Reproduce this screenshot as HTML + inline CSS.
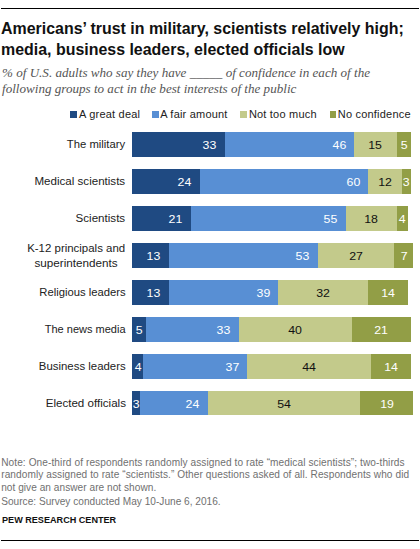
<!DOCTYPE html>
<html><head><meta charset="utf-8"><style>
html,body{margin:0;padding:0;background:#fff;}
body{width:420px;height:549px;position:relative;overflow:hidden;font-family:"Liberation Sans",sans-serif;}
.a{position:absolute;white-space:nowrap;}
.t{font-weight:bold;font-size:15.95px;line-height:15.95px;color:#111;left:1px;}
.s{font-family:"Liberation Serif",serif;font-style:italic;font-size:13.1px;line-height:13.1px;color:#555;left:2px;}
.lg{font-size:11px;line-height:11px;color:#222;letter-spacing:0.2px;}
.sq{position:absolute;width:6.5px;height:6.5px;}
.lab{font-size:11.25px;line-height:11.25px;color:#222;}
.lab span{display:inline-block;transform-origin:100% 50%;}
.seg{position:absolute;}
.v{position:absolute;font-size:11px;line-height:11px;white-space:nowrap;}
.v span{display:inline-block;transform:scaleX(1.12);}
.n{font-size:10.1px;line-height:10.1px;color:#707070;left:1.2px;}
</style></head><body>

<div class="a" style="left:1px;top:8px;width:418px;height:1px;background:#000"></div>
<div class="a t" style="top:21.1px">Americans’ trust in military, scientists relatively high;</div>
<div class="a t" style="top:42.3px">media, business leaders, elected officials low</div>
<div class="a s" style="top:66.2px">% of U.S. adults who say they have _____ of confidence in each of the</div>
<div class="a s" style="top:82.2px">following groups to act in the best interests of the public</div>
<div class="sq" style="left:70.3px;top:111.2px;background:#1f4a82"></div>
<div class="a lg" style="left:79.10px;top:109.3px">A great deal</div>
<div class="sq" style="left:152.2px;top:111.2px;background:#588fd4"></div>
<div class="a lg" style="left:160.20px;top:109.3px">A fair amount</div>
<div class="sq" style="left:240.4px;top:111.2px;background:#c3ca8b"></div>
<div class="a lg" style="left:248.90px;top:109.3px">Not too much</div>
<div class="sq" style="left:329.7px;top:111.2px;background:#929e46"></div>
<div class="a lg" style="left:337.80px;top:109.3px">No confidence</div>
<div class="a lab" style="right:294.4px;top:138.95px"><span style="transform:scaleX(1.003)">The military</span></div>
<div class="seg" style="left:132.00px;top:132px;width:92.89px;height:24.5px;background:#1f4a82"></div>
<div class="v" style="right:203.71px;top:140.45px;color:#fff"><span style="transform-origin:100% 50%">33</span></div>
<div class="seg" style="left:224.89px;top:132px;width:129.49px;height:24.5px;background:#588fd4"></div>
<div class="v" style="right:74.22px;top:140.45px;color:#fff"><span style="transform-origin:100% 50%">46</span></div>
<div class="seg" style="left:354.38px;top:132px;width:42.23px;height:24.5px;background:#c3ca8b"></div>
<div class="v" style="left:354.38px;width:42.23px;text-align:center;top:140.45px;color:#111"><span>15</span></div>
<div class="seg" style="left:396.61px;top:132px;width:14.07px;height:24.5px;background:#929e46"></div>
<div class="v" style="left:396.61px;width:14.07px;text-align:center;top:140.45px;color:#fff"><span>5</span></div>
<div class="a lab" style="right:294.4px;top:175.95px"><span style="transform:scaleX(1.029)">Medical scientists</span></div>
<div class="seg" style="left:132.00px;top:169px;width:67.56px;height:24.5px;background:#1f4a82"></div>
<div class="v" style="right:229.04px;top:177.45px;color:#fff"><span style="transform-origin:100% 50%">24</span></div>
<div class="seg" style="left:199.56px;top:169px;width:168.90px;height:24.5px;background:#588fd4"></div>
<div class="v" style="right:60.14px;top:177.45px;color:#fff"><span style="transform-origin:100% 50%">60</span></div>
<div class="seg" style="left:368.46px;top:169px;width:33.78px;height:24.5px;background:#c3ca8b"></div>
<div class="v" style="left:368.46px;width:33.78px;text-align:center;top:177.45px;color:#111"><span>12</span></div>
<div class="seg" style="left:402.24px;top:169px;width:8.45px;height:24.5px;background:#929e46"></div>
<div class="v" style="left:402.24px;width:8.45px;text-align:center;top:177.45px;color:#fff"><span>3</span></div>
<div class="a lab" style="right:294.4px;top:212.95px"><span style="transform:scaleX(1.03)">Scientists</span></div>
<div class="seg" style="left:132.00px;top:206px;width:59.12px;height:24.5px;background:#1f4a82"></div>
<div class="v" style="right:237.48px;top:214.45px;color:#fff"><span style="transform-origin:100% 50%">21</span></div>
<div class="seg" style="left:191.12px;top:206px;width:154.82px;height:24.5px;background:#588fd4"></div>
<div class="v" style="right:82.66px;top:214.45px;color:#fff"><span style="transform-origin:100% 50%">55</span></div>
<div class="seg" style="left:345.94px;top:206px;width:50.67px;height:24.5px;background:#c3ca8b"></div>
<div class="v" style="left:345.94px;width:50.67px;text-align:center;top:214.45px;color:#111"><span>18</span></div>
<div class="seg" style="left:396.61px;top:206px;width:11.26px;height:24.5px;background:#929e46"></div>
<div class="v" style="left:396.61px;width:11.26px;text-align:center;top:214.45px;color:#fff"><span>4</span></div>
<div class="a lab" style="left:6.5px;width:140px;text-align:center;top:243.30px"><span style="transform:scaleX(1.018);transform-origin:50% 50%">K-12 principals and</span></div>
<div class="a lab" style="left:6.1px;width:140px;text-align:center;top:257.55px"><span style="transform:scaleX(1.04);transform-origin:50% 50%">superintendents</span></div>
<div class="seg" style="left:132.00px;top:243px;width:36.59px;height:24.5px;background:#1f4a82"></div>
<div class="v" style="right:260.00px;top:251.45px;color:#fff"><span style="transform-origin:100% 50%">13</span></div>
<div class="seg" style="left:168.59px;top:243px;width:149.19px;height:24.5px;background:#588fd4"></div>
<div class="v" style="right:110.81px;top:251.45px;color:#fff"><span style="transform-origin:100% 50%">53</span></div>
<div class="seg" style="left:317.79px;top:243px;width:76.00px;height:24.5px;background:#c3ca8b"></div>
<div class="v" style="left:317.79px;width:76.00px;text-align:center;top:251.45px;color:#111"><span>27</span></div>
<div class="seg" style="left:393.79px;top:243px;width:19.70px;height:24.5px;background:#929e46"></div>
<div class="v" style="left:393.79px;width:19.70px;text-align:center;top:251.45px;color:#fff"><span>7</span></div>
<div class="a lab" style="right:294.4px;top:286.95px"><span style="transform:scaleX(1.0)">Religious leaders</span></div>
<div class="seg" style="left:132.00px;top:280px;width:36.59px;height:24.5px;background:#1f4a82"></div>
<div class="v" style="right:260.00px;top:288.45px;color:#fff"><span style="transform-origin:100% 50%">13</span></div>
<div class="seg" style="left:168.59px;top:280px;width:109.78px;height:24.5px;background:#588fd4"></div>
<div class="v" style="right:150.22px;top:288.45px;color:#fff"><span style="transform-origin:100% 50%">39</span></div>
<div class="seg" style="left:278.38px;top:280px;width:90.08px;height:24.5px;background:#c3ca8b"></div>
<div class="v" style="left:278.38px;width:90.08px;text-align:center;top:288.45px;color:#111"><span>32</span></div>
<div class="seg" style="left:368.46px;top:280px;width:39.41px;height:24.5px;background:#929e46"></div>
<div class="v" style="left:368.46px;width:39.41px;text-align:center;top:288.45px;color:#fff"><span>14</span></div>
<div class="a lab" style="right:294.4px;top:323.95px"><span style="transform:scaleX(0.979)">The news media</span></div>
<div class="seg" style="left:132.00px;top:317px;width:14.07px;height:24.5px;background:#1f4a82"></div>
<div class="v" style="left:132.00px;width:14.07px;text-align:center;top:325.45px;color:#fff"><span>5</span></div>
<div class="seg" style="left:146.07px;top:317px;width:92.89px;height:24.5px;background:#588fd4"></div>
<div class="v" style="right:189.63px;top:325.45px;color:#fff"><span style="transform-origin:100% 50%">33</span></div>
<div class="seg" style="left:238.97px;top:317px;width:112.60px;height:24.5px;background:#c3ca8b"></div>
<div class="v" style="left:238.97px;width:112.60px;text-align:center;top:325.45px;color:#111"><span>40</span></div>
<div class="seg" style="left:351.57px;top:317px;width:59.12px;height:24.5px;background:#929e46"></div>
<div class="v" style="left:351.57px;width:59.12px;text-align:center;top:325.45px;color:#fff"><span>21</span></div>
<div class="a lab" style="right:294.4px;top:360.95px"><span style="transform:scaleX(1.014)">Business leaders</span></div>
<div class="seg" style="left:132.00px;top:354px;width:11.26px;height:24.5px;background:#1f4a82"></div>
<div class="v" style="left:132.00px;width:11.26px;text-align:center;top:362.45px;color:#fff"><span>4</span></div>
<div class="seg" style="left:143.26px;top:354px;width:104.16px;height:24.5px;background:#588fd4"></div>
<div class="v" style="right:181.19px;top:362.45px;color:#fff"><span style="transform-origin:100% 50%">37</span></div>
<div class="seg" style="left:247.41px;top:354px;width:123.86px;height:24.5px;background:#c3ca8b"></div>
<div class="v" style="left:247.41px;width:123.86px;text-align:center;top:362.45px;color:#111"><span>44</span></div>
<div class="seg" style="left:371.27px;top:354px;width:39.41px;height:24.5px;background:#929e46"></div>
<div class="v" style="left:371.27px;width:39.41px;text-align:center;top:362.45px;color:#fff"><span>14</span></div>
<div class="a lab" style="right:294.4px;top:397.95px"><span style="transform:scaleX(1.03)">Elected officials</span></div>
<div class="seg" style="left:132.00px;top:391px;width:8.45px;height:24px;background:#1f4a82"></div>
<div class="v" style="left:132.00px;width:8.45px;text-align:center;top:399.45px;color:#fff"><span>3</span></div>
<div class="seg" style="left:140.44px;top:391px;width:67.56px;height:24px;background:#588fd4"></div>
<div class="v" style="right:220.59px;top:399.45px;color:#fff"><span style="transform-origin:100% 50%">24</span></div>
<div class="seg" style="left:208.00px;top:391px;width:152.01px;height:24px;background:#c3ca8b"></div>
<div class="v" style="left:208.00px;width:152.01px;text-align:center;top:399.45px;color:#111"><span>54</span></div>
<div class="seg" style="left:360.01px;top:391px;width:53.48px;height:24px;background:#929e46"></div>
<div class="v" style="left:360.01px;width:53.48px;text-align:center;top:399.45px;color:#fff"><span>19</span></div>
<div class="a n" style="top:457.5px;letter-spacing:0.09px">Note: One-third of respondents randomly assigned to rate “medical scientists”; two-thirds</div>
<div class="a n" style="top:470.3px;letter-spacing:0.083px">randomly assigned to rate “scientists.” Other questions asked of all. Respondents who did</div>
<div class="a n" style="top:483.4px;letter-spacing:0.04px">not give an answer are not shown.</div>
<div class="a n" style="top:497.2px;letter-spacing:0.015px">Source: Survey conducted May 10-June 6, 2016.</div>
<div class="a" style="left:2px;top:515.7px;font-weight:bold;font-size:9.1px;line-height:9.1px;color:#111">PEW RESEARCH CENTER</div>
<div class="a" style="left:1px;top:540px;width:418px;height:1px;background:#000"></div>
</body></html>
